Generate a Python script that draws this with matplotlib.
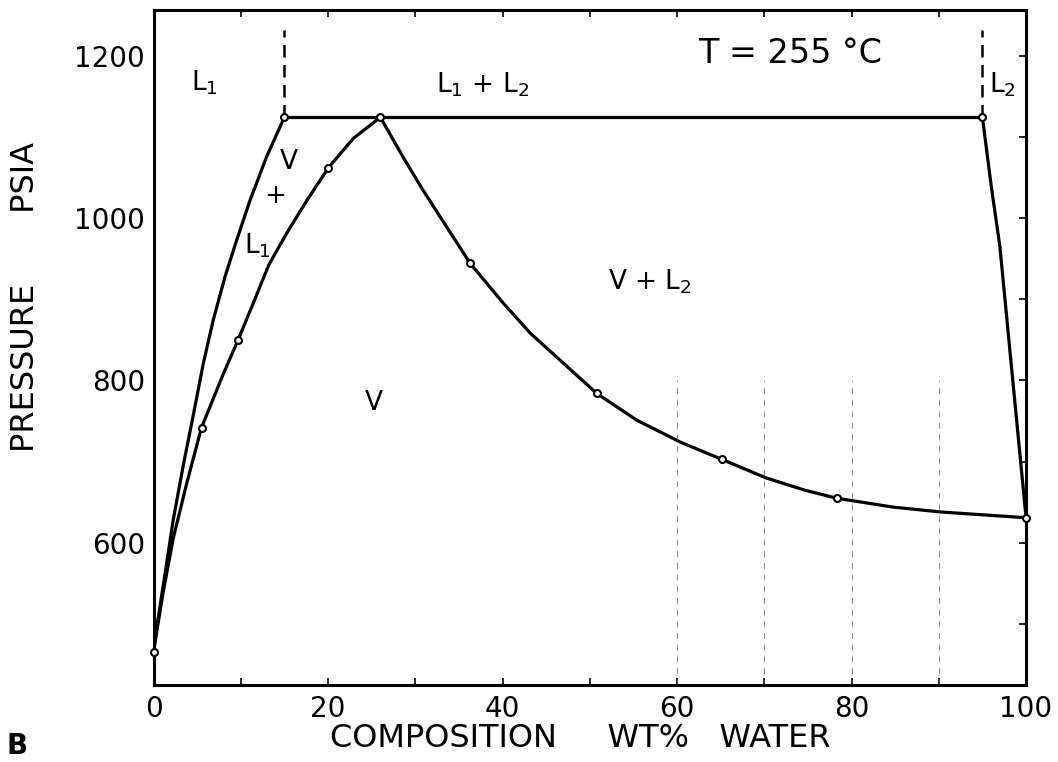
import matplotlib
matplotlib.use("Agg")
import matplotlib.pyplot as plt
from matplotlib.ticker import MultipleLocator

# boundary curves (wt % water, psia)
bubble_l1_x = [0, 0.36, 1.32, 2.27, 3.42, 4.57, 5.71, 6.86, 8.2, 9.54, 11.07, 12.98, 15.0]
bubble_l1_p = [466, 495, 562, 629, 696, 758, 821, 875, 928, 973, 1022, 1076, 1124]

dew_left_x = [0, 1.1, 2.27, 3.8, 5.5, 8.0, 9.7, 11.5, 13.2, 15.3, 17.6, 20.05, 22.9, 26.0]
dew_left_p = [466, 539, 606, 673, 742, 808, 850, 897, 942, 982, 1022, 1062, 1098, 1124]

dew_right_x = [26.0, 28.6, 30.9, 33.6, 36.3, 40.1, 43.2, 47.0, 50.8, 55.4, 60.4,
               65.1, 70.2, 74.6, 78.3, 84.8, 90.3, 100]
dew_right_p = [1124, 1075, 1034, 989, 944, 895, 858, 821, 784, 751, 724,
               703, 680, 665, 655, 644, 638, 631]

bubble_l2_x = [95.0, 96.0, 97.0, 98.3, 99.2, 100]
bubble_l2_p = [1124, 1040, 965, 820, 720, 631]

# measured points (open circles)
pts_x = [0, 5.5, 9.7, 20.05, 26.0, 36.3, 50.8, 65.1, 78.3, 100, 15.0, 95.0]
pts_p = [466, 742, 850, 1062, 1124, 944, 784, 703, 655, 631, 1124, 1124]

three_phase_p = 1124
three_phase_x = [15.0, 95.0]
dashed_top = 1232
paper_lines_x = [60, 70, 80, 90]

plt.rcParams['font.family'] = ['DejaVu Sans']

fig = plt.figure(figsize=(10.58, 7.62), dpi=100)
ax = fig.add_axes([0.1451, 0.1010, 0.8247, 0.8858])

lw = 2.3
ax.plot(bubble_l1_x, bubble_l1_p, color='black', lw=lw)
ax.plot(dew_left_x, dew_left_p, color='black', lw=lw)
ax.plot(dew_right_x, dew_right_p, color='black', lw=lw)
ax.plot(bubble_l2_x, bubble_l2_p, color='black', lw=lw)
ax.plot(three_phase_x, [three_phase_p, three_phase_p], color='black', lw=lw)

# dashed boundaries above the three phase line
for xv in three_phase_x:
    ax.plot([xv, xv], [three_phase_p, dashed_top], color='black', lw=1.8,
            linestyle=(0, (5, 3)))

# faint graph-paper lines left in the scan
ax.vlines(paper_lines_x, 425, 800, colors='0.35', lw=0.7,
          linestyles=(0, (6, 6)), alpha=0.7)

ax.plot(pts_x, pts_p, linestyle='none', marker='o', markersize=5,
        markerfacecolor='white', markeredgecolor='black', markeredgewidth=1.5,
        zorder=5, clip_on=False)

ax.set_xlim(0, 100)
ax.set_ylim(425, 1256)

for s in ax.spines.values():
    s.set_linewidth(2.2)

ax.xaxis.set_major_locator(MultipleLocator(20))
ax.xaxis.set_minor_locator(MultipleLocator(10))
ax.set_yticks([600, 800, 1000, 1200])
ax.yaxis.set_minor_locator(MultipleLocator(100))
ax.tick_params(axis='x', which='both', direction='in', top=True, length=5,
               width=1.2, labelsize=20, pad=7)
ax.tick_params(axis='y', which='both', direction='in', right=True, length=5,
               width=1.2, labelsize=20, pad=6)
ax.tick_params(axis='y', which='both', left=False)

ax.text(-0.147, 0.575, "PRESSURE       PSIA", transform=ax.transAxes,
        rotation=90, fontsize=23, ha='center', va='center')
ax.text(48.9, -0.0785, "COMPOSITION     WT%   WATER",
        transform=ax.get_xaxis_transform(), fontsize=23,
        ha='center', va='center')

# phase region labels
lab = dict(fontsize=19, ha='center', va='center')
ax.text(5.8, 1167, "L$_1$", **lab)
ax.text(37.7, 1164, "L$_1$ + L$_2$", **lab)
ax.text(72.9, 1203, "T = 255 °C", fontsize=24, ha='center', va='center')
ax.text(97.3, 1164, "L$_2$", **lab)
ax.text(15.5, 1069, "V", **lab)
ax.text(14.0, 1027, "+", **lab)
ax.text(11.9, 966, "L$_1$", **lab)
ax.text(56.9, 922, "V + L$_2$", **lab)
ax.text(25.2, 772, "V", **lab)

fig.text(0.006, 0.003, "B", fontsize=20, fontweight='bold', va='bottom')

fig.savefig("out.png", dpi=100)
